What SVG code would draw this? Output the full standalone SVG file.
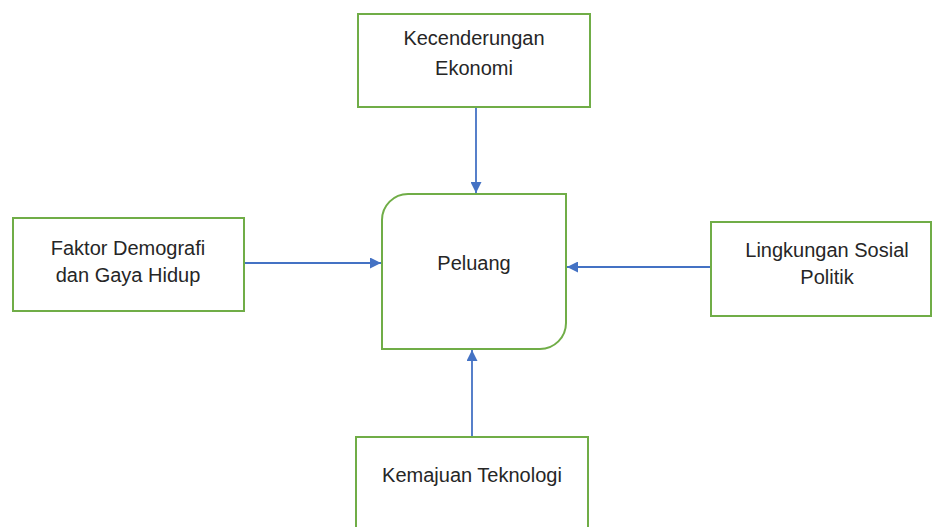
<svg xmlns="http://www.w3.org/2000/svg" width="932" height="527" viewBox="0 0 932 527">
<style>
.box{fill:#fff;stroke:#70AD47;stroke-width:2}
.lbl{font-family:"Liberation Sans",Arial,sans-serif;font-size:20px;fill:#262626;text-anchor:middle}
.con{stroke:#4472C4;stroke-width:1.8;fill:none;marker-end:url(#arr)}
</style>
<defs>
<marker id="arr" viewBox="0 0 10 10" refX="10" refY="5" markerWidth="11" markerHeight="11" markerUnits="userSpaceOnUse" orient="auto">
<path d="M0,0 L10,5 L0,10 z" fill="#4472C4"/>
</marker>
</defs>
<rect width="932" height="527" fill="#fff"/>
<g id="connectors">
<line class="con" x1="476" y1="107" x2="476" y2="193"/>
<line class="con" x1="244" y1="263" x2="381" y2="263"/>
<line class="con" x1="711" y1="267" x2="567" y2="267"/>
<line class="con" x1="472" y1="437" x2="472" y2="350"/>
</g>
<g id="ekonomi">
<rect class="box" x="358" y="14" width="232" height="93"/>
<text class="lbl" x="474" y="45">Kecenderungan</text>
<text class="lbl" x="474" y="75">Ekonomi</text>
</g>
<g id="peluang">
<path class="box" d="M408,194 H566 V323 A26,26 0 0 1 540,349 H382 V220 A26,26 0 0 1 408,194 Z"/>
<text class="lbl" x="474" y="270">Peluang</text>
</g>
<g id="demografi">
<rect class="box" x="13" y="218" width="231" height="93"/>
<text class="lbl" x="128" y="255">Faktor Demografi</text>
<text class="lbl" x="128" y="282">dan Gaya Hidup</text>
</g>
<g id="sosial">
<rect class="box" x="711" y="222" width="220" height="94"/>
<text class="lbl" x="827" y="257">Lingkungan Sosial</text>
<text class="lbl" x="827" y="284">Politik</text>
</g>
<g id="teknologi">
<rect class="box" x="356" y="437" width="232" height="100"/>
<text class="lbl" x="472" y="482">Kemajuan Teknologi</text>
</g>
</svg>
